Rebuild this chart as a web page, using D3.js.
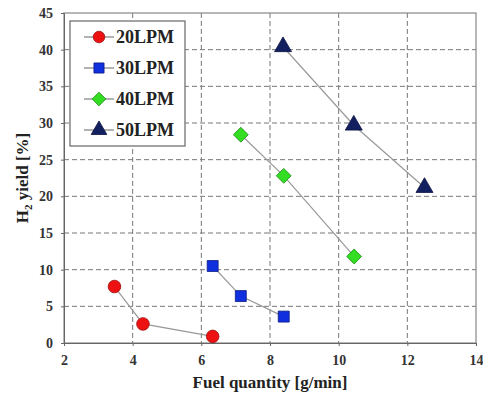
<!DOCTYPE html>
<html>
<head>
<meta charset="utf-8">
<script src="https://cdn.jsdelivr.net/npm/d3@7"></script>
<style>
  body { margin: 0; background: #fff; }
  svg text { font-family: "Liberation Serif", serif; }
</style>
</head>
<body>
<div id="chart"></div>
<script>
// H2 yield vs fuel quantity, one series per air flow rate
var seriesNames = ["20LPM", "30LPM", "40LPM", "50LPM"];
var fuel20 = [3.47, 4.3, 6.33];
var yield20 = [7.7, 2.6, 0.9];
var fuel30 = [6.33, 7.15, 8.4];
var yield30 = [10.5, 6.4, 3.6];
var fuel40 = [7.15, 8.4, 10.45];
var yield40 = [28.4, 22.8, 11.8];
var fuel50 = [8.38, 10.44, 12.5];
var yield50 = [40.4, 29.7, 21.2];
var xTicks = [2, 4, 6, 8, 10, 12, 14];
var yTicks = [0, 5, 10, 15, 20, 25, 30, 35, 40, 45];

var W = 483, H = 394;
var margin = {top: 13, right: 7, bottom: 51, left: 64};
var width  = W - margin.left - margin.right;
var height = H - margin.top - margin.bottom;

var styles = [
    {shape: d3.symbolCircle,   size: 125, rot: 0,  fill: "#ee1111", stroke: "#991111"},
    {shape: d3.symbolSquare,   size: 120, rot: 0,  fill: "#1030e0", stroke: "#0a1a80"},
    {shape: d3.symbolSquare,   size: 110, rot: 45, fill: "#33dd22", stroke: "#1f8f18"},
    {shape: d3.symbolTriangle, size: 125, rot: 0,  fill: "#132060", stroke: "#0a1240"}
];

var fuels  = [fuel20, fuel30, fuel40, fuel50];
var yields = [yield20, yield30, yield40, yield50];

var svg = d3.select("#chart").append("svg")
    .attr("width", W).attr("height", H)
  .append("g")
    .attr("transform", "translate(" + margin.left + "," + margin.top + ")");

var x = d3.scaleLinear().domain([2, 14]).range([0, width]);
var y = d3.scaleLinear().domain([0, 45]).range([height, 0]);

// grid
svg.append("g").selectAll("line").data(xTicks.slice(1, -1)).enter().append("line")
    .attr("x1", d => x(d)).attr("x2", d => x(d)).attr("y1", 0).attr("y2", height)
    .attr("stroke", "#777").attr("stroke-dasharray", "5,3").attr("stroke-width", 1);
svg.append("g").selectAll("line").data(yTicks.slice(1, -1)).enter().append("line")
    .attr("y1", d => y(d)).attr("y2", d => y(d)).attr("x1", 0).attr("x2", width)
    .attr("stroke", "#777").attr("stroke-dasharray", "5,3").attr("stroke-width", 1);

svg.append("rect").attr("width", width).attr("height", height)
    .attr("fill", "none").attr("stroke", "#888").attr("stroke-width", 1.2);

// axes
var xAxis = svg.append("g").attr("transform", "translate(0," + height + ")")
    .call(d3.axisBottom(x).tickValues(xTicks).tickSize(3).tickPadding(9));
var yAxis = svg.append("g")
    .call(d3.axisLeft(y).tickValues(yTicks).tickSize(3).tickPadding(8));
[xAxis, yAxis].forEach(function(a){
    a.attr("font-family", null).attr("font-size", 14).attr("font-weight", "bold");
    a.select(".domain").attr("stroke", "#666");
    a.selectAll(".tick line").attr("stroke", "#666");
    a.selectAll(".tick text").attr("fill", "#333");
});

// series
var line = d3.line().x(d => x(d[0])).y(d => y(d[1]));
seriesNames.forEach(function(name, i){
    var pts = fuels[i].map((f, j) => [f, yields[i][j]]);
    svg.append("path").datum(pts).attr("d", line)
        .attr("fill", "none").attr("stroke", "#999").attr("stroke-width", 1.2);
    svg.selectAll(".m" + i).data(pts).enter().append("path")
        .attr("class", "m" + i)
        .attr("transform", d => "translate(" + x(d[0]) + "," + y(d[1]) + ") rotate(" + styles[i].rot + ")")
        .attr("d", d3.symbol().type(styles[i].shape).size(styles[i].size))
        .attr("fill", styles[i].fill).attr("stroke", styles[i].stroke).attr("stroke-width", 0.8);
});

// legend
var legend = svg.append("g").attr("transform", "translate(6,8)");
legend.append("rect").attr("width", 115).attr("height", 125)
    .attr("fill", "#fff").attr("stroke", "#666").attr("stroke-width", 1.2);
seriesNames.forEach(function(name, i){
    var gy = 16 + i * 31;
    legend.append("line").attr("x1", 14).attr("x2", 44).attr("y1", gy).attr("y2", gy)
        .attr("stroke", "#666").attr("stroke-width", 1);
    legend.append("path").attr("transform", "translate(29," + gy + ") rotate(" + styles[i].rot + ")")
        .attr("d", d3.symbol().type(styles[i].shape).size(styles[i].size * 0.85))
        .attr("fill", styles[i].fill).attr("stroke", styles[i].stroke).attr("stroke-width", 0.8);
    legend.append("text").attr("x", 46).attr("y", gy + 6)
        .attr("font-weight", "bold").attr("font-size", 18)
        .attr("fill", "#222").text(name);
});

// axis titles
svg.append("text")
    .attr("x", width / 2).attr("y", height + 45)
    .attr("text-anchor", "middle")
    .attr("font-weight", "bold").attr("font-size", 17)
    .attr("fill", "#222")
    .text("Fuel quantity  [g/min]");

var yl = svg.append("text")
    .attr("transform", "translate(-36," + (height / 2) + ") rotate(-90)")
    .attr("text-anchor", "middle")
    .attr("font-weight", "bold").attr("font-size", 17)
    .attr("fill", "#222");
yl.append("tspan").text("H");
yl.append("tspan").attr("dy", 4).attr("font-size", 11).text("2");
yl.append("tspan").attr("dy", -4).text(" yield [%]");
</script>
</body>
</html>
